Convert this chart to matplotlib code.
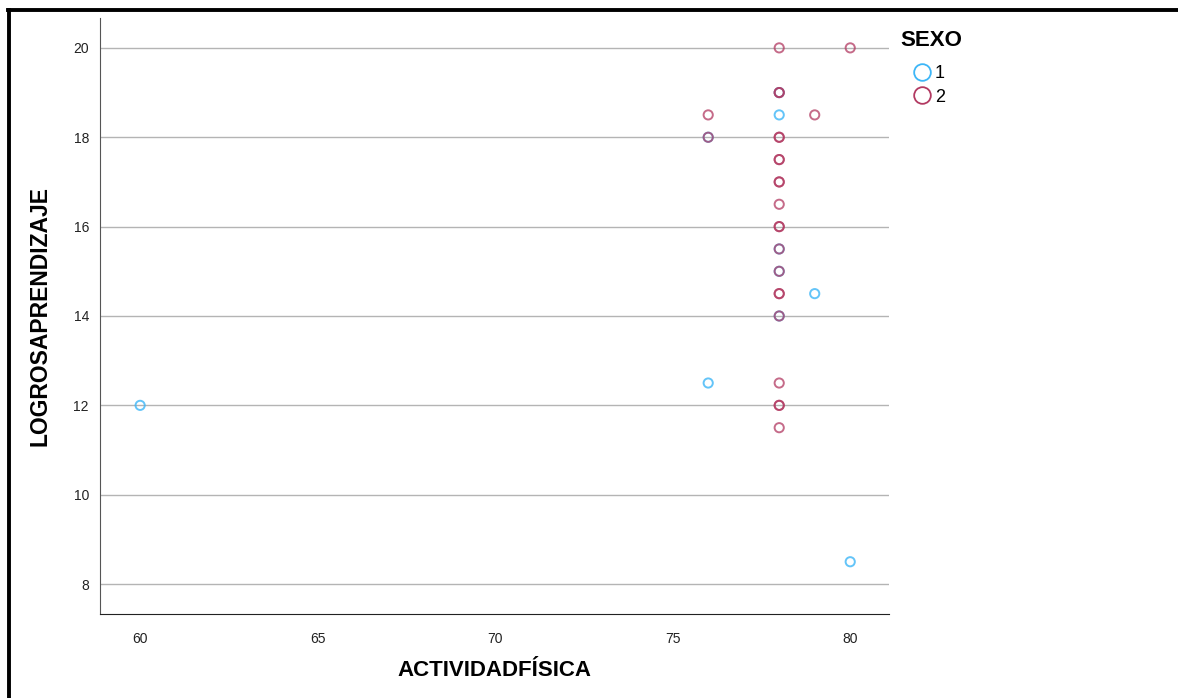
import matplotlib.pyplot as plt
from matplotlib.lines import Line2D

plt.rcParams['font.family'] = ['Liberation Sans', 'DejaVu Sans']

# SEXO = 1
x_sexo1 = [60, 76, 78, 79, 80, 76, 78, 78, 78, 78]
y_sexo1 = [12, 12.5, 18.5, 14.5, 8.5, 18, 19, 15.5, 15, 14]

# SEXO = 2
x_sexo2 = [78, 80, 78, 78, 76, 79, 76, 78, 78, 78, 78, 78, 78, 78, 78, 78, 78, 78,
           78, 78, 78, 78, 78, 78, 78]
y_sexo2 = [20, 20, 19, 19, 18.5, 18.5, 18, 18, 18, 17.5, 17.5, 17, 17, 16.5, 16, 16,
           15.5, 15, 14.5, 14.5, 14, 12.5, 12, 12, 11.5]

x_ticks = [60, 65, 70, 75, 80]
y_ticks = [8, 10, 12, 14, 16, 18, 20]
sexo_labels = ['1', '2']

blue = '#3db6f7'
red = '#b23a62'

fig = plt.figure(figsize=(11.78, 6.98), dpi=100)
ax = fig.add_axes([0.0849, 0.1203, 0.67, 0.854])

ax.scatter(x_sexo1, y_sexo1, s=44, facecolors='none', edgecolors=blue,
           linewidths=1.4, alpha=0.8, zorder=3)
ax.scatter(x_sexo2, y_sexo2, s=44, facecolors='none', edgecolors=red,
           linewidths=1.4, alpha=0.75, zorder=3)

ax.set_xlim(58.87, 81.1)
ax.set_ylim(7.33, 20.67)
ax.set_xticks(x_ticks)
ax.set_yticks(y_ticks)
ax.tick_params(length=0, labelsize=10, colors='#222222')
ax.tick_params(axis='x', pad=13)
ax.tick_params(axis='y', pad=8)
ax.grid(axis='y', color='#b4b4b4', linewidth=1)
ax.set_axisbelow(True)

for side in ['top', 'right']:
    ax.spines[side].set_visible(False)
ax.spines['left'].set_color('#555555')
ax.spines['bottom'].set_color('#222222')

ax.set_xlabel('ACTIVIDADFÍSICA', fontsize=16, fontweight='bold', labelpad=10)
ax.set_ylabel('LOGROSAPRENDIZAJE', fontsize=16.5, fontweight='bold', labelpad=16)

# legend: title drawn separately so the gap matches
fig.text(900 / 1178, 1 - 40 / 698, 'SEXO', fontsize=16, fontweight='bold',
         ha='left', va='center')
handles = [Line2D([], [], marker='o', linestyle='none', markersize=12,
                  markerfacecolor='none', markeredgecolor=blue, markeredgewidth=1.3),
           Line2D([], [], marker='o', linestyle='none', markersize=12,
                  markerfacecolor='none', markeredgecolor=red, markeredgewidth=1.3)]
fig.legend(handles, sexo_labels, loc='upper left',
           bbox_to_anchor=(897 / 1178, 1 - 58 / 698), frameon=False, fontsize=13,
           handletextpad=-0.3, labelspacing=0.35, borderaxespad=0.0,
           handlelength=2.0)

# screenshot frame
fig.add_artist(Line2D([0.007, 1.0], [0.985, 0.985], color='black', linewidth=2.8,
                      transform=fig.transFigure))
fig.add_artist(Line2D([0.008, 0.008], [0.0, 0.985], color='black', linewidth=2.8,
                      transform=fig.transFigure))

fig.savefig('out.png', dpi=100)
